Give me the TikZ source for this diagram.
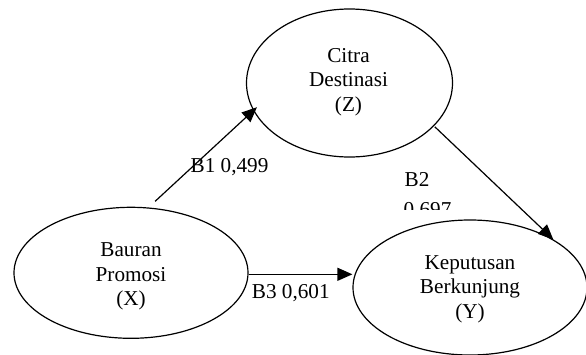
\documentclass[tikz,border=0pt]{standalone}
\usepackage{fontspec}
\setmainfont{Liberation Serif}
\usetikzlibrary{shapes.geometric,arrows.meta}
\tikzset{
  var/.style={draw=black, line width=1.2pt, ellipse, inner sep=0pt},
  txt/.style={inner sep=0pt, align=center, font=\fontsize{21.2}{24.5}\selectfont},
  lbl/.style={inner sep=0pt, anchor=base west, font=\fontsize{21.2}{24.5}\selectfont},
  arr/.style={draw=black, line width=1.2pt, -{Triangle[length=15pt,width=13pt]}}
}
\begin{document}
\begin{tikzpicture}[x=1pt,y=-1pt]
\useasboundingbox (0,0) rectangle (586,354);
% variables
\node[var, minimum width=206pt, minimum height=148pt] (Z) at (349.5,83) {};
\node[var, minimum width=234pt, minimum height=131pt] (X) at (131,272.8) {};
\node[var, minimum width=234pt, minimum height=135pt] (Y) at (470,287.5) {};
\node[txt] (Zt) at (348.5,82) {Citra\\Destinasi\\(Z)};
\node[txt] (Xt) at (131,276.4) {Bauran\\Promosi\\(X)};
\node[txt] (Yt) at (470,289.3) {Keputusan\\Berkunjung\\(Y)};
% connectors
\draw[arr, shorten <=9pt, shorten >=-5pt] (X.75) -- (Z.196);
\draw[arr, shorten <=1pt] (Z.333) -- (Y.30);
\draw[arr] ([yshift=-1.5pt]X.east) -- ([yshift=-1.5pt]X.east -| Y.west);
% labels
\node[lbl] (b1) at (190.5,172.7) {B1 0,499};
\node[lbl] (b3) at (251.7,298.3) {B3 0,601};
\begin{scope}
\clip (380,150) rectangle (460,209.5);
\node[lbl] (b2a) at (404.5,186) {B2};
\node[lbl] (b2b) at (403.5,216) {0,697};
\end{scope}
\end{tikzpicture}
\end{document}
